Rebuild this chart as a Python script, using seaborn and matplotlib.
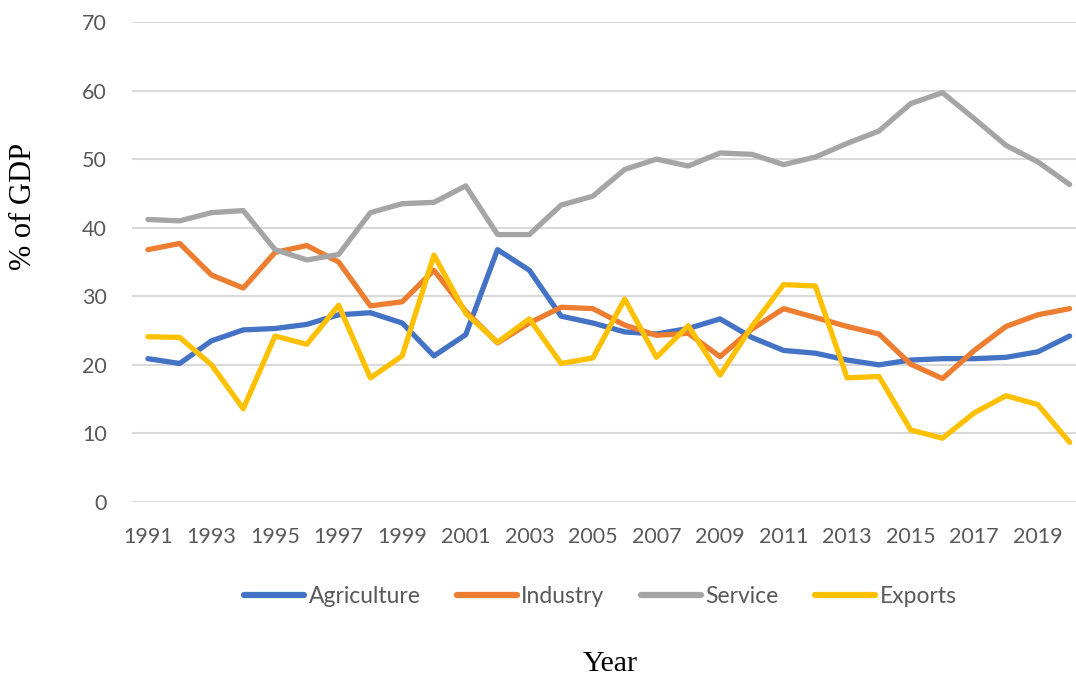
import numpy as np
import pandas as pd
import matplotlib
matplotlib.use('Agg')
import matplotlib.pyplot as plt
import seaborn as sns

# data (% of GDP)
years = list(range(1991, 2021))
agriculture = [20.9, 20.2, 23.5, 25.1, 25.3, 25.9, 27.3, 27.6, 26.1, 21.3,
               24.4, 36.8, 33.8, 27.1, 26.1, 24.8, 24.5, 25.3, 26.7, 24.0,
               22.1, 21.7, 20.7, 20.0, 20.7, 20.9, 20.9, 21.1, 21.9, 24.2]
industry = [36.8, 37.7, 33.1, 31.2, 36.4, 37.4, 35.0, 28.6, 29.2, 33.8,
            27.8, 23.2, 26.1, 28.4, 28.2, 25.8, 24.3, 24.6, 21.2, 25.2,
            28.2, 26.9, 25.6, 24.5, 20.1, 18.0, 22.1, 25.6, 27.3, 28.2]
service = [41.2, 41.0, 42.2, 42.5, 36.8, 35.3, 36.1, 42.2, 43.5, 43.7,
           46.1, 39.0, 39.0, 43.3, 44.6, 48.5, 50.0, 49.0, 50.9, 50.7,
           49.2, 50.3, 52.3, 54.1, 58.1, 59.7, 55.9, 52.0, 49.6, 46.3]
exports = [24.1, 24.0, 20.0, 13.6, 24.2, 23.0, 28.7, 18.1, 21.3, 36.0,
           27.5, 23.3, 26.7, 20.2, 21.0, 29.6, 21.1, 25.7, 18.5, 25.6,
           31.7, 31.5, 18.1, 18.3, 10.5, 9.3, 13.0, 15.5, 14.2, 8.7]
series_names = ['Agriculture', 'Industry', 'Service', 'Exports']
colors = ['#4472C4', '#ED7D31', '#A5A5A5', '#FFC000']

df = pd.DataFrame({'Year': years, 'Agriculture': agriculture, 'Industry': industry,
                   'Service': service, 'Exports': exports})
long_df = df.melt(id_vars='Year', var_name='Sector', value_name='Value')

sns.set_style('white')
plt.rcParams['font.family'] = ['Lato', 'DejaVu Sans']

fig = plt.figure(figsize=(10.76, 6.79), dpi=100)
ax = fig.add_axes([0.1227, 0.2607, 0.8773, 0.7069])

sns.lineplot(data=long_df, x='Year', y='Value', hue='Sector', hue_order=series_names,
             palette=colors, linewidth=3.8, ax=ax, legend=False)
for ln in ax.get_lines():
    ln.set_solid_capstyle('round')
    ln.set_solid_joinstyle('round')

ax.set_xlim(1990.5, 2020.2)
ax.set_ylim(0, 70)
ax.set_yticks(range(0, 71, 10))
ax.set_xticks(years[::2])
ax.yaxis.grid(True, color='#D9D9D9', linewidth=1.5)
ax.set_axisbelow(True)
for s in ax.spines.values():
    s.set_visible(False)
ax.tick_params(axis='both', length=0, colors='#595959', labelsize=15.5)
ax.tick_params(axis='x', pad=18)
ax.tick_params(axis='y', pad=18)
ax.set_xlabel('')
ax.set_ylabel('')

fig.text(0.022, 1 - 206 / 679, '% of GDP', rotation=90, ha='center', va='center',
         family='Liberation Serif', fontsize=22, color='black')
fig.text(0.567, 1 - 671 / 679, 'Year', ha='center', va='baseline',
         family='Liberation Serif', fontsize=21.5, color='black')

handles = [plt.Line2D([], [], color=c, linewidth=4.5, solid_capstyle='round') for c in colors]
fig.legend(handles, series_names, loc='center', bbox_to_anchor=(0.558, 0.121), ncol=4,
           frameon=False, fontsize=16.5, labelcolor='#595959', handlelength=2.6,
           handletextpad=0.2, columnspacing=1.6)

plt.savefig('out.png', dpi=100)
